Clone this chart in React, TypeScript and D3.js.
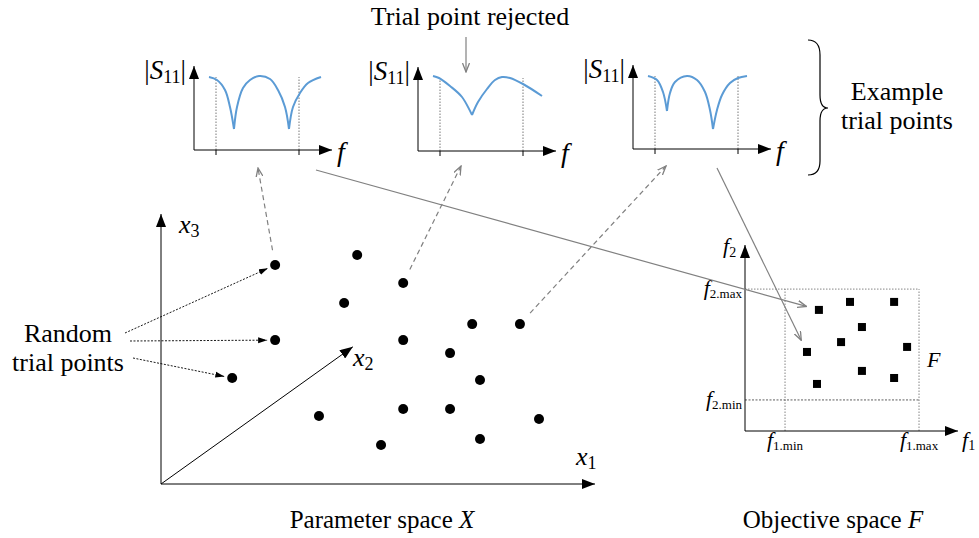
import React from 'react';
import * as d3 from 'd3';

// ---------- Data ----------
// Parameter space trial points (x1, x3 in arbitrary units 0..100)
const PARAM_X1 = [26.3, 45.2, 55.8, 42.2, 71.7, 82.7, 26.3, 55.8, 66.6, 16.4, 73.5, 36.4, 55.8, 66.6, 87.1, 50.7, 73.5];
const PARAM_X3 = [80.8, 84.5, 74.2, 66.8, 59.0, 59.0, 53.1, 53.1, 48.3, 39.1, 38.4, 25.1, 27.7, 27.7, 24.0, 14.4, 16.6];
// x2 depth-axis end (in x1/x3 units)
const X2_AXIS_END = [44.2, 50.6];

// Objective space points (f1, f2 in 0..100)
const OBJ_F1 = [34.7, 49.3, 70.0, 54.9, 45.1, 29.1, 76.1, 54.9, 70.0, 33.8];
const OBJ_F2 = [65.1, 69.4, 69.4, 55.9, 47.8, 42.5, 45.2, 32.3, 28.5, 25.3];
const F1_LIMITS = [18.8, 81.7];
const F2_LIMITS = [16.7, 76.3];

// Mini |S11| plots: band edges and curve segments [f, |S11|]
const BAND_EDGES = [22, 105];
const CURVE_ACCEPTED_1 = [
  [[15, 73], [23, 70], [31, 60], [36, 43], [40, 21]],
  [[40, 21], [43, 43], [49, 62], [56, 70], [65, 74], [76, 71], [84, 60], [91, 43], [95, 21]],
  [[95, 21], [99, 43], [106, 57], [114, 67], [127, 73]],
];
const CURVE_REJECTED = [
  [[15, 75], [21, 73], [32, 65], [44, 54], [54, 36]],
  [[54, 36], [60, 49], [69, 62], [77, 71], [84, 74], [92, 73], [105, 67], [124, 55]],
];
const CURVE_ACCEPTED_2 = [
  [[15, 73], [24, 69], [30, 57], [34, 38]],
  [[34, 38], [37, 56], [42, 67], [54, 73], [64, 69], [72, 57], [77, 39], [80, 20]],
  [[80, 20], [84, 39], [89, 54], [97, 66], [105, 71], [114, 73]],
];

// Which trial points are highlighted
const RANDOM_LABEL_TARGETS = [0, 6, 9];
const PLOT_SOURCES = [0, 2, 5];

const FONT = 'Liberation Serif';
const GRAY = '#808080';
const BLUE = '#5b9bd5';

// ---------- Layout ----------
const W = 979;
const H = 538;

const px = d3.scaleLinear().domain([0, 100]).range([161, 595]);
const py = d3.scaleLinear().domain([0, 100]).range([484, 213]);

const ox = d3.scaleLinear().domain([0, 100]).range([745, 958]);
const oy = d3.scaleLinear().domain([0, 100]).range([431, 245]);

const MINI_ORIGINS = [
  [194, 150],
  [418, 151],
  [633, 149],
];
const CURVES = [CURVE_ACCEPTED_1, CURVE_REJECTED, CURVE_ACCEPTED_2];

function shorten(x1: number, y1: number, x2: number, y2: number, a: number, b: number) {
  const dx = x2 - x1, dy = y2 - y1;
  const L = Math.hypot(dx, dy);
  return [x1 + (dx * a) / L, y1 + (dy * a) / L, x2 - (dx * b) / L, y2 - (dy * b) / L];
}

function Txt(props: any) {
  const { children, ...rest } = props;
  return (
    <text fontFamily={FONT} style={{ fontFamily: FONT }} {...rest}>
      {children}
    </text>
  );
}

function MiniPlot({ idx }: { idx: number }) {
  const [x0, y0] = MINI_ORIGINS[idx];
  const fx = d3.scaleLinear().domain([0, 140]).range([x0, x0 + 140]);
  const sy = d3.scaleLinear().domain([0, 85]).range([y0, y0 - 85]);
  const line = d3
    .line<number[]>()
    .x((d) => fx(d[0]))
    .y((d) => sy(d[1]))
    .curve(d3.curveCatmullRom.alpha(0.5));
  return (
    <g>
      {BAND_EDGES.map((b, i) => (
        <g key={i}>
          <line x1={fx(b)} x2={fx(b)} y1={sy(0) + 5} y2={sy(0)} stroke="#000" strokeWidth={1} />
          <line x1={fx(b)} x2={fx(b)} y1={sy(0)} y2={sy(73)} stroke="#555" strokeWidth={0.8} strokeDasharray="1.5,1.5" />
        </g>
      ))}
      <line x1={fx(0)} y1={sy(0)} x2={fx(0)} y2={sy(84)} stroke="#000" strokeWidth={1} markerEnd="url(#axHead)" />
      <line x1={fx(0)} y1={sy(0)} x2={fx(138)} y2={sy(0)} stroke="#000" strokeWidth={1} markerEnd="url(#axHead)" />
      {CURVES[idx].map((seg, i) => (
        <path key={i} d={line(seg) || ''} fill="none" stroke={BLUE} strokeWidth={2} />
      ))}
      <Txt x={fx(0) - 8} y={sy(71)} textAnchor="end" fontSize={27}>
        <tspan>|</tspan>
        <tspan fontStyle="italic">S</tspan>
        <tspan fontSize={18} dy={4}>11</tspan>
        <tspan dy={-4}>|</tspan>
      </Txt>
      <Txt x={fx(143)} y={sy(0) + 11} fontSize={28} fontStyle="italic">
        f
      </Txt>
    </g>
  );
}

export default function App() {
  const dots = PARAM_X1.map((x, i) => [px(x), py(PARAM_X3[i])]);
  const squares = OBJ_F1.map((f, i) => [ox(f), oy(OBJ_F2[i])]);

  const labelStarts = [
    [125, 333],
    [130, 341],
    [133, 358],
  ];
  const plotTargets = [
    [258, 168],
    [461, 166],
    [666, 166],
  ];
  const grayArrows = [
    [[316, 170], squares[0]],
    [[717, 168], squares[5]],
  ];

  return (
    <svg width={W} height={H} fontFamily={FONT} style={{ position: 'absolute', left: 0, top: 0, background: '#fff' }}>
      <defs>
        <marker id="axHead" markerUnits="userSpaceOnUse" markerWidth={14} markerHeight={10} refX={13} refY={5} orient="auto">
          <path d="M0,0 L13,5 L0,10 Z" fill="#000" />
        </marker>
        <marker id="smallHead" markerUnits="userSpaceOnUse" markerWidth={10} markerHeight={7} refX={9} refY={3.5} orient="auto">
          <path d="M0,0.5 L9,3.5 L0,6.5 Z" fill="#000" />
        </marker>
        <marker id="grayHead" markerUnits="userSpaceOnUse" markerWidth={10} markerHeight={8} refX={9} refY={4} orient="auto">
          <path d="M0,0.5 L9,4 L0,7.5" fill="none" stroke={GRAY} strokeWidth={1.3} />
        </marker>
      </defs>

      {/* Title above middle plot */}
      <Txt x={470} y={25} textAnchor="middle" fontSize={26}>
        Trial point rejected
      </Txt>
      <line x1={466} y1={37} x2={466} y2={72} stroke={GRAY} strokeWidth={1.2} markerEnd="url(#grayHead)" />

      {[0, 1, 2].map((i) => (
        <MiniPlot key={i} idx={i} />
      ))}

      {/* Brace */}
      <path
        d="M808,40 Q820,40 820,55 L820,95 Q820,108 828,108 Q820,108 820,121 L820,161 Q820,175 808,175"
        fill="none"
        stroke="#000"
        strokeWidth={1.2}
      />
      <Txt x={897} y={100} textAnchor="middle" fontSize={26}>
        Example
      </Txt>
      <Txt x={897} y={129} textAnchor="middle" fontSize={26}>
        trial points
      </Txt>

      {/* Parameter space axes */}
      <line x1={px(0)} y1={py(0)} x2={px(0)} y2={py(100) + 1} stroke="#000" strokeWidth={1} markerEnd="url(#axHead)" />
      <line x1={px(0)} y1={py(0)} x2={px(100)} y2={py(0)} stroke="#000" strokeWidth={1} markerEnd="url(#axHead)" />
      <line x1={px(0)} y1={py(0)} x2={px(X2_AXIS_END[0])} y2={py(X2_AXIS_END[1])} stroke="#000" strokeWidth={1} markerEnd="url(#axHead)" />
      <Txt x={179} y={233} fontSize={26} fontStyle="italic">
        x<tspan fontStyle="normal" fontSize={18} dy={4}>3</tspan>
      </Txt>
      <Txt x={576} y={465} fontSize={26} fontStyle="italic">
        x<tspan fontStyle="normal" fontSize={18} dy={4}>1</tspan>
      </Txt>
      <Txt x={353} y={366} fontSize={26} fontStyle="italic">
        x<tspan fontStyle="normal" fontSize={18} dy={4}>2</tspan>
      </Txt>

      {/* Random trial points label and arrows */}
      <Txt x={68} y={342} textAnchor="middle" fontSize={26}>
        Random
      </Txt>
      <Txt x={68} y={371} textAnchor="middle" fontSize={26}>
        trial points
      </Txt>
      {RANDOM_LABEL_TARGETS.map((t, i) => {
        const [a, b, c, d] = shorten(labelStarts[i][0], labelStarts[i][1], dots[t][0], dots[t][1], 0, 8);
        return (
          <line key={i} x1={a} y1={b} x2={c} y2={d} stroke="#000" strokeWidth={0.9} strokeDasharray="2,1.5" markerEnd="url(#smallHead)" />
        );
      })}

      {/* Dashed arrows from trial points to plots */}
      {PLOT_SOURCES.map((s, i) => {
        const [a, b, c, d] = shorten(dots[s][0], dots[s][1], plotTargets[i][0], plotTargets[i][1], 15, 0);
        return (
          <line key={i} x1={a} y1={b} x2={c} y2={d} stroke={GRAY} strokeWidth={1.2} strokeDasharray="5,3.5" markerEnd="url(#grayHead)" />
        );
      })}

      {/* Dots */}
      {dots.map((d, i) => (
        <circle key={i} cx={d[0]} cy={d[1]} r={5} fill="#000" />
      ))}

      {/* Objective space */}
      <line x1={ox(F1_LIMITS[0])} x2={ox(F1_LIMITS[0])} y1={oy(0)} y2={oy(F2_LIMITS[1])} stroke="#666" strokeWidth={0.8} strokeDasharray="1.5,1.5" />
      <line x1={ox(F1_LIMITS[1])} x2={ox(F1_LIMITS[1])} y1={oy(0)} y2={oy(F2_LIMITS[1])} stroke="#666" strokeWidth={0.8} strokeDasharray="1.5,1.5" />
      <line x1={ox(0)} x2={ox(F1_LIMITS[1])} y1={oy(F2_LIMITS[1])} y2={oy(F2_LIMITS[1])} stroke="#666" strokeWidth={0.8} strokeDasharray="1.5,1.5" />
      <line x1={ox(0)} x2={ox(F1_LIMITS[1])} y1={oy(F2_LIMITS[0])} y2={oy(F2_LIMITS[0])} stroke="#333" strokeWidth={0.8} strokeDasharray="2,1.5" />
      <line x1={ox(0)} y1={oy(0)} x2={ox(0)} y2={oy(100)} stroke="#000" strokeWidth={1} markerEnd="url(#axHead)" />
      <line x1={ox(0)} y1={oy(0)} x2={ox(100)} y2={oy(0)} stroke="#000" strokeWidth={1} markerEnd="url(#axHead)" />
      {squares.map((s, i) => (
        <rect key={i} x={s[0] - 4} y={s[1] - 4} width={8} height={8} fill="#000" />
      ))}

      <Txt x={723} y={253} fontSize={22} fontStyle="italic">
        f<tspan fontStyle="normal" fontSize={14} dy={4}>2</tspan>
      </Txt>
      <Txt x={742} y={oy(F2_LIMITS[1]) + 6} textAnchor="end" fontSize={22} fontStyle="italic">
        f<tspan fontStyle="normal" fontSize={13} dy={3}>2.max</tspan>
      </Txt>
      <Txt x={742} y={oy(F2_LIMITS[0]) + 6} textAnchor="end" fontSize={22} fontStyle="italic">
        f<tspan fontStyle="normal" fontSize={13} dy={3}>2.min</tspan>
      </Txt>
      <Txt x={ox(F1_LIMITS[0])} y={447} textAnchor="middle" fontSize={22} fontStyle="italic">
        f<tspan fontStyle="normal" fontSize={13} dy={3}>1.min</tspan>
      </Txt>
      <Txt x={ox(F1_LIMITS[1])} y={447} textAnchor="middle" fontSize={22} fontStyle="italic">
        f<tspan fontStyle="normal" fontSize={13} dy={3}>1.max</tspan>
      </Txt>
      <Txt x={962} y={447} fontSize={22} fontStyle="italic">
        f<tspan fontStyle="normal" fontSize={14} dy={3}>1</tspan>
      </Txt>
      <Txt x={927} y={367} fontSize={22} fontStyle="italic">
        F
      </Txt>

      {/* Gray arrows from plots to objective space */}
      {grayArrows.map((g, i) => {
        const [a, b, c, d] = shorten(g[0][0], g[0][1], g[1][0], g[1][1], 0, 13);
        return <line key={i} x1={a} y1={b} x2={c} y2={d} stroke={GRAY} strokeWidth={1.2} markerEnd="url(#grayHead)" />;
      })}

      {/* Bottom labels */}
      <Txt x={382} y={528} textAnchor="middle" fontSize={25}>
        Parameter space <tspan fontStyle="italic">X</tspan>
      </Txt>
      <Txt x={833} y={528} textAnchor="middle" fontSize={25}>
        Objective space <tspan fontStyle="italic">F</tspan>
      </Txt>
    </svg>
  );
}
